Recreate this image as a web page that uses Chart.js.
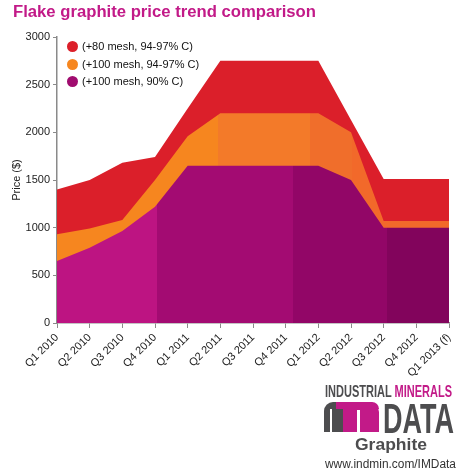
<!DOCTYPE html>
<html><head><meta charset="utf-8">
<script src="https://cdn.jsdelivr.net/npm/chart.js@4.4.1/dist/chart.umd.min.js"></script>
<style>
html,body{margin:0;padding:0;background:#fff;width:464px;height:475px;overflow:hidden;font-family:"Liberation Sans",Arial,sans-serif}
#wrap{position:relative;width:464px;height:475px}
canvas{position:absolute;left:0;top:0}
.abs{position:absolute;white-space:nowrap;line-height:1;transform-origin:0 0}
.lg{position:absolute;left:0;white-space:nowrap;line-height:1;font-size:11px;color:#111}
.dot{position:absolute;width:11px;height:11px;border-radius:50%}
</style></head><body>
<div id="wrap">
<canvas id="c" width="464" height="475"></canvas>
<div class="abs fit" data-w="303" style="left:13px;top:4px;font-size:16px;font-weight:bold;color:#C21A88">Flake graphite price trend comparison</div>
<div id="legend"></div>
<div class="abs fit" data-w="127" style="left:325px;top:383px;font-size:16.5px;font-weight:bold;color:#4D4D4F"><span>INDUSTRIAL </span><span style="color:#C21A88">MINERALS</span></div>
<div class="abs" style="left:324px;top:402px;width:19px;height:30px;background:#4D4D4F;border-top-left-radius:9px"></div>
<div class="abs" style="left:329.5px;top:409px;width:2px;height:23px;background:#fff"></div>
<div class="abs" style="left:336px;top:402px;width:43px;height:7px;background:#C21A88;border-top-right-radius:7px"></div>
<div class="abs" style="left:343px;top:402px;width:36px;height:30px;background:#C21A88;border-top-right-radius:10px"></div>
<div class="abs" style="left:357px;top:410px;width:2.5px;height:22px;background:#fff"></div>
<div class="abs fit" data-w="71" style="left:382.5px;top:397px;font-size:43px;font-weight:bold;color:#4D4D4F">DATA</div>
<div class="abs fit" data-w="72" style="left:355px;top:436px;font-size:17px;font-weight:bold;color:#4D4D4F">Graphite</div>
<div class="abs fit" data-w="131" style="left:325px;top:458px;font-size:12px;color:#333">www.indmin.com/IMData</div>
</div>
<script>
const quarters = ['Q1 2010','Q2 2010','Q3 2010','Q4 2010','Q1 2011','Q2 2011','Q3 2011','Q4 2011','Q1 2012','Q2 2012','Q3 2012','Q4 2012','Q1 2013 (f)'];
const seriesNames = ['(+80 mesh, 94-97% C)','(+100 mesh, 94-97% C)','(+100 mesh, 90% C)'];
const mesh80_9497 = [1400,1500,1680,1740,2250,2750,2750,2750,2750,2130,1510,1510,1510];
const mesh100_9497 = [930,990,1080,1500,1960,2200,2200,2200,2200,2000,1070,1070,1070];
const mesh100_90 = [650,790,965,1220,1650,1650,1650,1650,1650,1500,1000,1000,1000];
const yTicks = [0,500,1000,1500,2000,2500,3000];

const legendColors = ['#DC1F2A','#F6861F','#A00C6F'];
// shading bands: [end position in category-index units, colour]
const redBands = [[12,'#DB1F2A']];
const orangeBands = [[4.93,'#F6861F'],[7.74,'#F37A29'],[9.03,'#F06E2B'],[12,'#F2692A']];
const purpleBands = [[3.06,'#BD1482'],[7.21,'#A30B72'],[10.09,'#920667'],[12,'#82045C']];

function bandFill(bands){
  return (c)=>{
    const ch = c.chart, a = ch.chartArea;
    if(!a || !ch.scales.x) return bands[0][1];
    const xs = ch.scales.x, w = a.right - a.left;
    const g = ch.ctx.createLinearGradient(a.left,0,a.right,0);
    let start = 0;
    bands.forEach(([end,col])=>{
      const p0 = Math.min(1,Math.max(0,(xs.getPixelForValue(start)-a.left)/w));
      const p1 = Math.min(1,Math.max(0,(xs.getPixelForValue(end)-a.left)/w));
      g.addColorStop(p0,col); g.addColorStop(p1,col);
      start = end;
    });
    return g;
  };
}

const axisColor = '#8a8a8a';
const tickFont = {family:'"Liberation Sans", Arial, sans-serif', size:11};

new Chart(document.getElementById('c'), {
  type:'line',
  data:{
    labels: quarters,
    datasets:[
      {label:seriesNames[0], data:mesh80_9497, fill:'origin', backgroundColor:bandFill(redBands), borderColor:'rgba(0,0,0,0)', borderWidth:0, pointRadius:0, tension:0, order:3},
      {label:seriesNames[1], data:mesh100_9497, fill:'origin', backgroundColor:bandFill(orangeBands), borderColor:'rgba(0,0,0,0)', borderWidth:0, pointRadius:0, tension:0, order:2},
      {label:seriesNames[2], data:mesh100_90, fill:'origin', backgroundColor:bandFill(purpleBands), borderColor:'rgba(0,0,0,0)', borderWidth:0, pointRadius:0, tension:0, order:1}
    ]
  },
  options:{
    responsive:false, animation:false,
    layout:{padding:{top:37,right:15,left:0,bottom:0}},
    plugins:{legend:{display:false}, tooltip:{enabled:false}},
    elements:{line:{borderWidth:0}},
    scales:{
      x:{type:'category', offset:false,
         grid:{display:true, drawOnChartArea:false, drawTicks:true, tickLength:5, color:axisColor, lineWidth:1, offset:false},
         border:{display:true, color:axisColor, width:1.5},
         ticks:{minRotation:45, maxRotation:45, autoSkip:false, font:tickFont, color:'#222', padding:3},
         afterFit(s){ s.height = 152; }},
      y:{min:0, max:3000,
         afterBuildTicks(s){ s.ticks = yTicks.map(v=>({value:v})); },
         grid:{display:true, drawOnChartArea:false, drawTicks:true, tickLength:4, color:axisColor, lineWidth:1},
         border:{display:true, color:axisColor, width:1.5},
         ticks:{font:tickFont, color:'#222', padding:3, callback:(v)=>String(v)},
         title:{display:true, text:'Price ($)', font:tickFont, color:'#222', padding:{top:10,bottom:0}},
         afterFit(s){ s.width = 57; }}
    }
  }
});

const lg = document.getElementById('legend');
const ys = [46.3, 64, 81.3];
seriesNames.forEach((n,i)=>{
  const d = document.createElement('div'); d.className='dot';
  d.style.left = (72.5-5.5)+'px'; d.style.top=(ys[i]-5.5)+'px'; d.style.background=legendColors[i];
  lg.appendChild(d);
  const t = document.createElement('div'); t.className='lg'; t.textContent=n;
  t.style.left='82px'; t.style.top=(ys[i]-5.5)+'px';
  lg.appendChild(t);
});
document.querySelectorAll('.fit').forEach(el=>{
  const w = el.getBoundingClientRect().width;
  el.style.transform = 'scaleX(' + (parseFloat(el.dataset.w)/w) + ')';
});
</script>
</body></html>
